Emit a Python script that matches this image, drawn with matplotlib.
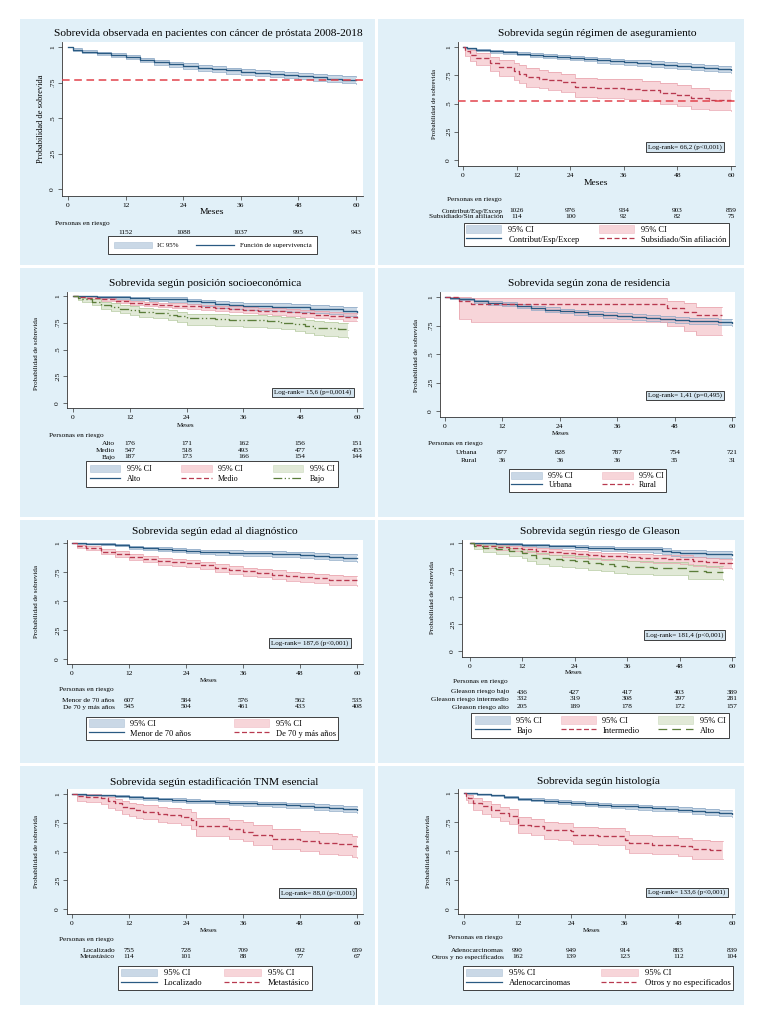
import matplotlib
matplotlib.use('Agg')
import matplotlib.pyplot as plt
from matplotlib.patches import Rectangle, Patch
from matplotlib.lines import Line2D
from matplotlib.transforms import blended_transform_factory

plt.rcParams['font.family'] = ['Liberation Serif', 'DejaVu Serif']

# ---------------- DATA ----------------
X_TICKS = [0, 12, 24, 36, 48, 60]
Y_TICKS = [0, 0.25, 0.5, 0.75, 1]
Y_TICK_LABELS = ['0', '.25', '.5', '.75', '1']
RISK_TIMES = [12, 24, 36, 48, 60]
T_GRID = [0, 1, 3, 6, 9, 12, 15, 18, 21, 24, 27, 30, 33, 36, 39, 42, 45, 48, 51, 54, 57, 60]

# Panel 1: overall
p1_s = [1.0, 0.982, 0.968, 0.955, 0.943, 0.928, 0.910, 0.893, 0.880, 0.866, 0.855, 0.845, 0.835, 0.825, 0.817, 0.810, 0.803, 0.796, 0.786, 0.777, 0.771, 0.766]
p1_lo = [1.0, 0.975, 0.957, 0.942, 0.928, 0.912, 0.893, 0.875, 0.861, 0.846, 0.834, 0.824, 0.813, 0.803, 0.794, 0.787, 0.779, 0.772, 0.761, 0.752, 0.746, 0.740]
p1_hi = [1.0, 0.990, 0.979, 0.966, 0.955, 0.942, 0.925, 0.909, 0.897, 0.884, 0.874, 0.864, 0.855, 0.846, 0.838, 0.832, 0.825, 0.819, 0.809, 0.801, 0.795, 0.790]
p1_ref = 0.765
p1_risk = [1152, 1088, 1037, 995, 943]

# Panel 2: insurance regime
p2_con_s = [1.0, 0.988, 0.975, 0.962, 0.952, 0.940, 0.928, 0.917, 0.910, 0.902, 0.893, 0.884, 0.875, 0.866, 0.858, 0.851, 0.843, 0.835, 0.826, 0.817, 0.808, 0.800]
p2_con_lo = [1.0, 0.981, 0.965, 0.950, 0.938, 0.925, 0.911, 0.899, 0.891, 0.882, 0.872, 0.862, 0.852, 0.843, 0.834, 0.826, 0.818, 0.809, 0.799, 0.790, 0.780, 0.772]
p2_con_hi = [1.0, 0.995, 0.985, 0.974, 0.965, 0.955, 0.944, 0.934, 0.928, 0.921, 0.913, 0.905, 0.897, 0.889, 0.882, 0.875, 0.868, 0.860, 0.852, 0.844, 0.835, 0.827]
p2_sub_t = [0, 0.5, 1.5, 3, 6, 8, 11.5, 12.5, 14, 17, 19, 22, 25, 30, 36, 40, 44, 48, 51, 55, 60]
p2_sub_s = [1.0, 0.965, 0.93, 0.90, 0.86, 0.82, 0.79, 0.765, 0.735, 0.72, 0.705, 0.69, 0.647, 0.64, 0.632, 0.618, 0.594, 0.574, 0.55, 0.535, 0.53]
p2_sub_hi = [1.0, 0.99, 0.97, 0.945, 0.915, 0.885, 0.86, 0.84, 0.81, 0.795, 0.78, 0.765, 0.73, 0.72, 0.715, 0.70, 0.68, 0.66, 0.635, 0.62, 0.615]
p2_sub_lo = [1.0, 0.92, 0.875, 0.84, 0.79, 0.745, 0.71, 0.68, 0.65, 0.635, 0.62, 0.60, 0.555, 0.55, 0.54, 0.525, 0.50, 0.48, 0.455, 0.44, 0.435]
p2_ref = 0.525
p2_risk_con = [1026, 976, 934, 903, 859]
p2_risk_sub = [114, 100, 92, 82, 75]

# Panel 3: socioeconomic position
p3_alto_t = [0, 5, 8, 12, 16, 20, 24, 27, 30, 33, 36, 42, 46, 50, 54, 57, 60]
p3_alto_s = [1.0, 0.994, 0.988, 0.982, 0.976, 0.97, 0.955, 0.94, 0.925, 0.913, 0.905, 0.90, 0.893, 0.882, 0.875, 0.862, 0.853]
p3_alto_lo = [1.0, 0.982, 0.972, 0.962, 0.953, 0.945, 0.926, 0.908, 0.889, 0.875, 0.865, 0.859, 0.851, 0.838, 0.829, 0.815, 0.804]
p3_alto_hi = [1.0, 1.0, 0.997, 0.993, 0.99, 0.986, 0.976, 0.964, 0.951, 0.942, 0.936, 0.932, 0.926, 0.917, 0.911, 0.90, 0.893]
p3_med_s = [1.0, 0.995, 0.985, 0.97, 0.952, 0.935, 0.927, 0.918, 0.91, 0.902, 0.894, 0.886, 0.879, 0.872, 0.864, 0.856, 0.847, 0.838, 0.826, 0.815, 0.806, 0.798]
p3_med_lo = [1.0, 0.989, 0.975, 0.956, 0.935, 0.916, 0.906, 0.896, 0.887, 0.877, 0.868, 0.859, 0.851, 0.843, 0.834, 0.825, 0.815, 0.805, 0.792, 0.781, 0.771, 0.762]
p3_med_hi = [1.0, 1.0, 0.994, 0.983, 0.967, 0.952, 0.945, 0.937, 0.930, 0.924, 0.917, 0.910, 0.904, 0.898, 0.891, 0.884, 0.876, 0.868, 0.857, 0.847, 0.839, 0.832]
p3_bajo_t = [0, 1, 2, 4, 6, 8, 10, 12, 14, 17, 20, 22, 24, 30, 33, 36, 41, 44, 47, 49, 51, 53, 56, 58]
p3_bajo_s = [1.0, 0.984, 0.968, 0.947, 0.915, 0.898, 0.882, 0.866, 0.852, 0.84, 0.825, 0.81, 0.79, 0.782, 0.778, 0.774, 0.765, 0.752, 0.735, 0.72, 0.705, 0.698, 0.69, 0.685]
p3_bajo_lo = [1.0, 0.966, 0.943, 0.915, 0.877, 0.857, 0.838, 0.82, 0.804, 0.79, 0.772, 0.756, 0.733, 0.724, 0.719, 0.714, 0.704, 0.689, 0.669, 0.653, 0.636, 0.628, 0.619, 0.612]
p3_bajo_hi = [1.0, 0.995, 0.985, 0.97, 0.945, 0.93, 0.916, 0.902, 0.89, 0.88, 0.866, 0.853, 0.836, 0.83, 0.826, 0.823, 0.815, 0.804, 0.79, 0.776, 0.763, 0.758, 0.751, 0.747]
p3_risk_alto = [176, 171, 162, 156, 151]
p3_risk_medio = [547, 518, 493, 477, 455]
p3_risk_bajo = [187, 173, 166, 154, 144]

# Panel 4: residence zone
p4_urb_s = [1.0, 0.992, 0.98, 0.962, 0.948, 0.935, 0.92, 0.905, 0.89, 0.878, 0.866, 0.855, 0.843, 0.832, 0.824, 0.816, 0.808, 0.80, 0.792, 0.786, 0.780, 0.775]
p4_urb_lo = [1.0, 0.986, 0.97, 0.949, 0.933, 0.918, 0.902, 0.886, 0.87, 0.857, 0.844, 0.832, 0.82, 0.808, 0.80, 0.791, 0.783, 0.774, 0.765, 0.759, 0.752, 0.747]
p4_urb_hi = [1.0, 0.998, 0.99, 0.975, 0.963, 0.952, 0.938, 0.924, 0.91, 0.899, 0.888, 0.878, 0.866, 0.856, 0.848, 0.841, 0.833, 0.826, 0.819, 0.813, 0.808, 0.803]
p4_rur_t = [0, 3, 5.5, 46.5, 50, 52.5, 58]
p4_rur_s = [1.0, 0.965, 0.935, 0.905, 0.872, 0.84, 0.84]
p4_rur_hi = [1.0, 0.998, 0.99, 0.965, 0.945, 0.915, 0.915]
p4_rur_lo = [1.0, 0.81, 0.78, 0.75, 0.70, 0.665, 0.665]
p4_risk_urb = [877, 828, 787, 754, 721]
p4_risk_rur = [36, 36, 36, 35, 31]

# Panel 5: age at diagnosis
p5_men_s = [1.0, 0.998, 0.995, 0.99, 0.982, 0.965, 0.955, 0.948, 0.94, 0.932, 0.925, 0.922, 0.918, 0.915, 0.912, 0.908, 0.904, 0.898, 0.89, 0.882, 0.875, 0.868]
p5_men_lo = [1.0, 0.994, 0.989, 0.982, 0.971, 0.95, 0.938, 0.93, 0.92, 0.911, 0.903, 0.90, 0.895, 0.892, 0.888, 0.883, 0.879, 0.872, 0.863, 0.854, 0.846, 0.838]
p5_men_hi = [1.0, 1.0, 0.999, 0.996, 0.991, 0.977, 0.969, 0.962, 0.956, 0.949, 0.943, 0.941, 0.938, 0.935, 0.933, 0.93, 0.926, 0.921, 0.914, 0.907, 0.901, 0.895]
p5_may_s = [1.0, 0.975, 0.955, 0.925, 0.905, 0.882, 0.862, 0.845, 0.835, 0.828, 0.808, 0.787, 0.77, 0.755, 0.742, 0.728, 0.716, 0.706, 0.695, 0.685, 0.678, 0.672]
p5_may_lo = [1.0, 0.96, 0.936, 0.902, 0.879, 0.854, 0.832, 0.814, 0.803, 0.795, 0.774, 0.752, 0.734, 0.718, 0.704, 0.689, 0.676, 0.665, 0.653, 0.642, 0.634, 0.627]
p5_may_hi = [1.0, 0.987, 0.971, 0.945, 0.927, 0.906, 0.888, 0.872, 0.863, 0.857, 0.838, 0.818, 0.802, 0.788, 0.776, 0.763, 0.752, 0.743, 0.733, 0.724, 0.717, 0.712]
p5_risk_men = [607, 584, 576, 562, 535]
p5_risk_may = [545, 504, 461, 433, 408]

# Panel 6: Gleason risk
p6_bajo_t = [0, 3, 6, 9, 12, 15, 18, 21, 24, 27, 30, 33, 36, 39, 42, 44, 46, 48, 51, 54, 57, 60]
p6_bajo_s = [1.0, 0.998, 0.995, 0.99, 0.984, 0.98, 0.975, 0.97, 0.963, 0.958, 0.953, 0.948, 0.944, 0.942, 0.94, 0.93, 0.915, 0.908, 0.905, 0.90, 0.895, 0.89]
p6_bajo_lo = [1.0, 0.993, 0.987, 0.98, 0.971, 0.965, 0.958, 0.951, 0.942, 0.936, 0.929, 0.923, 0.918, 0.915, 0.912, 0.90, 0.883, 0.875, 0.871, 0.865, 0.859, 0.853]
p6_bajo_hi = [1.0, 1.0, 0.999, 0.996, 0.992, 0.99, 0.986, 0.983, 0.978, 0.974, 0.97, 0.966, 0.963, 0.962, 0.96, 0.952, 0.939, 0.933, 0.931, 0.927, 0.923, 0.919]
p6_int_s = [1.0, 0.985, 0.97, 0.962, 0.953, 0.944, 0.93, 0.918, 0.905, 0.897, 0.89, 0.883, 0.876, 0.87, 0.865, 0.86, 0.855, 0.85, 0.835, 0.822, 0.812, 0.804]
p6_int_lo = [1.0, 0.97, 0.95, 0.938, 0.927, 0.916, 0.90, 0.886, 0.871, 0.862, 0.854, 0.846, 0.838, 0.831, 0.825, 0.819, 0.813, 0.807, 0.79, 0.776, 0.765, 0.756]
p6_int_hi = [1.0, 0.994, 0.984, 0.979, 0.972, 0.964, 0.952, 0.942, 0.931, 0.924, 0.918, 0.912, 0.906, 0.901, 0.897, 0.893, 0.889, 0.885, 0.871, 0.86, 0.851, 0.844]
p6_alto_t = [0, 1, 3, 6, 9, 12, 13, 15, 18, 21, 24, 27, 30, 33, 36, 42, 48, 50, 54, 58]
p6_alto_s = [1.0, 0.975, 0.955, 0.94, 0.925, 0.907, 0.885, 0.862, 0.848, 0.84, 0.83, 0.815, 0.805, 0.79, 0.775, 0.772, 0.77, 0.74, 0.733, 0.728]
p6_alto_lo = [1.0, 0.94, 0.915, 0.895, 0.878, 0.857, 0.832, 0.806, 0.79, 0.781, 0.77, 0.753, 0.742, 0.726, 0.71, 0.706, 0.703, 0.671, 0.663, 0.657]
p6_alto_hi = [1.0, 0.99, 0.979, 0.968, 0.957, 0.943, 0.925, 0.905, 0.893, 0.886, 0.877, 0.864, 0.856, 0.843, 0.829, 0.826, 0.825, 0.797, 0.791, 0.787]
p6_risk_bajo = [436, 427, 417, 403, 389]
p6_risk_int = [332, 319, 308, 297, 281]
p6_risk_alto = [205, 189, 178, 172, 157]

# Panel 7: TNM staging
p7_loc_s = [1.0, 0.998, 0.994, 0.988, 0.98, 0.972, 0.963, 0.955, 0.948, 0.942, 0.936, 0.93, 0.925, 0.919, 0.914, 0.91, 0.905, 0.899, 0.89, 0.88, 0.87, 0.862]
p7_loc_lo = [1.0, 0.995, 0.988, 0.98, 0.97, 0.96, 0.949, 0.94, 0.932, 0.925, 0.918, 0.911, 0.905, 0.898, 0.892, 0.887, 0.882, 0.875, 0.865, 0.854, 0.843, 0.834]
p7_loc_hi = [1.0, 1.0, 0.998, 0.994, 0.988, 0.981, 0.974, 0.967, 0.961, 0.956, 0.951, 0.946, 0.942, 0.937, 0.933, 0.93, 0.926, 0.921, 0.913, 0.904, 0.895, 0.888]
p7_met_t = [0, 1, 3, 6, 7.5, 9, 10.5, 12, 13.5, 15, 18, 20, 23, 25, 26, 30, 33, 36, 38, 42, 48, 52, 56, 59, 60]
p7_met_s = [1.0, 0.985, 0.977, 0.962, 0.935, 0.918, 0.89, 0.876, 0.86, 0.847, 0.824, 0.815, 0.803, 0.775, 0.72, 0.718, 0.695, 0.673, 0.645, 0.607, 0.592, 0.572, 0.562, 0.548, 0.535]
p7_met_hi = [1.0, 1.0, 0.996, 0.99, 0.97, 0.958, 0.937, 0.926, 0.913, 0.902, 0.884, 0.876, 0.866, 0.843, 0.795, 0.793, 0.773, 0.753, 0.727, 0.692, 0.678, 0.66, 0.651, 0.638, 0.627]
p7_met_lo = [1.0, 0.94, 0.93, 0.912, 0.88, 0.86, 0.83, 0.813, 0.795, 0.78, 0.755, 0.745, 0.731, 0.70, 0.638, 0.636, 0.612, 0.589, 0.558, 0.518, 0.503, 0.482, 0.471, 0.456, 0.44]
p7_risk_loc = [755, 728, 709, 692, 659]
p7_risk_met = [114, 101, 88, 77, 67]

# Panel 8: histology
p8_ade_s = [1.0, 0.996, 0.99, 0.98, 0.965, 0.95, 0.942, 0.933, 0.922, 0.914, 0.905, 0.898, 0.891, 0.885, 0.878, 0.871, 0.864, 0.856, 0.847, 0.838, 0.828, 0.82]
p8_ade_lo = [1.0, 0.992, 0.983, 0.971, 0.954, 0.937, 0.928, 0.918, 0.906, 0.897, 0.887, 0.879, 0.871, 0.864, 0.856, 0.849, 0.841, 0.832, 0.822, 0.813, 0.802, 0.793]
p8_ade_hi = [1.0, 0.999, 0.995, 0.987, 0.974, 0.961, 0.954, 0.946, 0.936, 0.929, 0.921, 0.915, 0.909, 0.904, 0.898, 0.892, 0.886, 0.878, 0.87, 0.862, 0.853, 0.845]
p8_otr_t = [0, 0.5, 1, 2, 4, 6, 8, 10, 12, 15, 18, 21, 24, 24.5, 30, 36, 37, 42, 48, 51, 55, 58]
p8_otr_s = [1.0, 0.975, 0.957, 0.914, 0.885, 0.856, 0.828, 0.805, 0.727, 0.713, 0.684, 0.677, 0.67, 0.641, 0.632, 0.598, 0.569, 0.555, 0.54, 0.517, 0.511, 0.511]
p8_otr_hi = [1.0, 0.995, 0.985, 0.953, 0.93, 0.905, 0.88, 0.86, 0.79, 0.777, 0.75, 0.745, 0.739, 0.71, 0.702, 0.67, 0.642, 0.628, 0.613, 0.591, 0.585, 0.585]
p8_otr_lo = [1.0, 0.94, 0.91, 0.855, 0.82, 0.79, 0.757, 0.732, 0.652, 0.637, 0.605, 0.598, 0.59, 0.56, 0.551, 0.516, 0.487, 0.472, 0.457, 0.433, 0.427, 0.427]
p8_risk_ade = [990, 949, 914, 883, 839]
p8_risk_otr = [162, 139, 123, 112, 104]

# ---------------- STYLE ----------------
W, H = 765, 1023
BG = '#e1f0f8'
BLUE, BLUE_CI, BLUE_E = '#2a5a82', '#a8bed6', '#8aa6c4'
RED, RED_CI, RED_E = '#b8394f', '#f3b9c1', '#e8a0ab'
GREEN, GREEN_CI, GREEN_E = '#5b7d3a', '#cddbbd', '#b2c89c'
REF = '#e2424c'
LOGRANK_FC = '#d4e5f0'
STYLES = {
    'blue': (BLUE, BLUE_CI, BLUE_E, '-'),
    'red': (RED, RED_CI, RED_E, (0, (4, 2))),
    'green_dd': (GREEN, GREEN_CI, GREEN_E, (0, (7, 2, 1, 2, 1, 2))),
    'green_ld': (GREEN, GREEN_CI, GREEN_E, (0, (7, 4))),
}

fig = plt.figure(figsize=(W / 100, H / 100), dpi=100)
fig.patch.set_facecolor('white')


def fx(px):
    return px / W


def fy(py):
    return 1 - py / H


def panel(bg, box, x0, x60, y1, y0, title, title_xy, ylab_xy, ylab_fs, meses_xy, meses_fs,
          curves, ref, risk_head_xy, risk_label_x, risk_rows, risk_ys, legend_box, legend_fs,
          legend_ncol, ci_label='95% CI', logrank=None, logrank_xy=None, title_fs=8.2,
          handlelength=4.2, borderpad=0.3):
    bx0, by0, bx1, by1 = bg
    fig.patches.append(Rectangle((fx(bx0), fy(by1)), (bx1 - bx0) / W, (by1 - by0) / H,
                                 transform=fig.transFigure, facecolor=BG, edgecolor='none',
                                 zorder=-10))
    left, top, right, bottom = box
    ax = fig.add_axes([fx(left), fy(bottom), (right - left) / W, (bottom - top) / H])
    ax.set_zorder(1)
    ax.set_facecolor('white')
    xs = (x60 - x0) / 60.0
    ys = (y0 - y1)
    ax.set_xlim((left - x0) / xs, (right - x0) / xs)
    ax.set_ylim((y0 - bottom) / ys, (y0 - top) / ys)
    for sp in ['top', 'right']:
        ax.spines[sp].set_visible(False)
    for sp in ['left', 'bottom']:
        ax.spines[sp].set_color('#333333')
        ax.spines[sp].set_linewidth(0.6)
    ax.set_xticks(X_TICKS)
    ax.set_xticklabels([str(v) for v in X_TICKS])
    ax.set_yticks(Y_TICKS)
    ax.set_yticklabels(Y_TICK_LABELS)
    ax.tick_params(axis='both', direction='out', length=3, width=0.5, color='#333333',
                   labelsize=5.4, pad=2)
    ax.tick_params(axis='y', labelrotation=90)
    for lb in ax.get_yticklabels():
        lb.set_va('center')

    handles_ci, handles_ln, labels_ln = [], [], []
    for (t, s, lo, hi, key, lab) in curves:
        lc, fc, ec, ls = STYLES[key]
        ax.fill_between(t, lo, hi, step='post', facecolor=fc, edgecolor='none', alpha=0.6, zorder=2)
        ax.step(t, lo, where='post', color=ec, lw=0.5, zorder=3)
        ax.step(t, hi, where='post', color=ec, lw=0.5, zorder=3)
        handles_ci.append(Patch(facecolor=fc, edgecolor=ec, alpha=0.6, lw=0.4))
        handles_ln.append(Line2D([], [], color=lc, ls=ls, lw=0.9))
        labels_ln.append(lab)
    for (t, s, lo, hi, key, lab) in curves:
        lc, fc, ec, ls = STYLES[key]
        ax.step(t, s, where='post', color=lc, ls=ls, lw=0.95, zorder=4)
    if ref is not None:
        ax.axhline(ref, color=REF, ls=(0, (5, 3)), lw=1.1, zorder=5)

    fig.text(fx(title_xy[0]), fy(title_xy[1]), title, ha='center', va='center', fontsize=title_fs)
    fig.text(fx(ylab_xy[0]), fy(ylab_xy[1]), 'Probabilidad de sobrevida', rotation=90,
             ha='center', va='center', fontsize=ylab_fs)
    fig.text(fx(meses_xy[0]), fy(meses_xy[1]), 'Meses', ha='center', va='center', fontsize=meses_fs)

    fig.text(fx(risk_head_xy[0]), fy(risk_head_xy[1]), 'Personas en riesgo', ha='left', va='center',
             fontsize=5.2)
    tr = blended_transform_factory(ax.transData, fig.transFigure)
    for (lab, nums), ry in zip(risk_rows, risk_ys):
        if lab:
            fig.text(fx(risk_label_x), fy(ry), lab, ha='right', va='center', fontsize=5.2)
        for tm, n in zip(RISK_TIMES, nums):
            ax.text(tm, fy(ry), str(n), transform=tr, ha='center', va='center', fontsize=5.2,
                    clip_on=False)

    if logrank is not None:
        ax.text(fx(logrank_xy[0]), fy(logrank_xy[1]), logrank, transform=fig.transFigure,
                ha='center', va='center', fontsize=5.0, zorder=10,
                bbox=dict(boxstyle='square,pad=0.3', fc=LOGRANK_FC, ec='#222222', lw=0.6))

    handles, labels = [], []
    for hc, hl, ll in zip(handles_ci, handles_ln, labels_ln):
        handles += [hc, hl]
        labels += [ci_label, ll]
    lx0, ly0, lx1, ly1 = legend_box
    leg = fig.legend(handles, labels, ncol=legend_ncol, mode='expand', loc='center',
                     bbox_to_anchor=(fx(lx0), fy(ly1), (lx1 - lx0) / W, (ly1 - ly0) / H),
                     bbox_transform=fig.transFigure, fontsize=legend_fs, frameon=True,
                     fancybox=False, edgecolor='#222222', framealpha=1, borderpad=borderpad,
                     labelspacing=0.15, handlelength=handlelength, handleheight=1.0,
                     handletextpad=0.8, columnspacing=1.0, borderaxespad=0)
    leg.get_frame().set_linewidth(0.6)
    leg.set_zorder(5)
    return ax


# Panel 1
panel(bg=(20, 19, 375, 265), box=(62, 42, 363, 196), x0=68, x60=356, y1=47, y0=189,
      title='Sobrevida observada en pacientes con cáncer de próstata 2008-2018', title_xy=(208, 34),
      ylab_xy=(41, 119), ylab_fs=6.0, meses_xy=(212, 212), meses_fs=6.8,
      curves=[(T_GRID, p1_s, p1_lo, p1_hi, 'blue', 'Función de supervivencia')], ref=p1_ref,
      risk_head_xy=(55, 223), risk_label_x=100, risk_rows=[('', p1_risk)], risk_ys=[232],
      legend_box=(108, 237, 317, 253), legend_fs=5.0, legend_ncol=2, ci_label='IC 95%',
      handlelength=5.5, borderpad=0.8)

# Panel 2
panel(bg=(378, 19, 744, 265), box=(458, 42, 735, 166), x0=463, x60=731, y1=47, y0=160,
      title='Sobrevida según régimen de aseguramiento', title_xy=(597, 34),
      ylab_xy=(435, 104), ylab_fs=4.8, meses_xy=(596, 183), meses_fs=6.8,
      curves=[(T_GRID, p2_con_s, p2_con_lo, p2_con_hi, 'blue', 'Contribut/Esp/Excep'),
              (p2_sub_t, p2_sub_s, p2_sub_lo, p2_sub_hi, 'red', 'Subsidiado/Sin afiliación')],
      ref=p2_ref, risk_head_xy=(447, 200), risk_label_x=503,
      risk_rows=[('Contribut/Esp/Excep', p2_risk_con), ('Subsidiado/Sin afiliación', p2_risk_sub)],
      risk_ys=[211, 217], legend_box=(464, 222, 729, 247), legend_fs=6.0, legend_ncol=2,
      logrank='Log-rank= 66,2 (p<0,001)', logrank_xy=(685, 147))

# Panel 3
panel(bg=(20, 268, 375, 517), box=(67, 292, 363, 408), x0=73, x60=357, y1=296, y0=403,
      title='Sobrevida según posición socioeconómica', title_xy=(205, 284),
      ylab_xy=(37, 353), ylab_fs=5.0, meses_xy=(186, 425), meses_fs=5.0,
      curves=[(p3_alto_t, p3_alto_s, p3_alto_lo, p3_alto_hi, 'blue', 'Alto'),
              (T_GRID, p3_med_s, p3_med_lo, p3_med_hi, 'red', 'Medio'),
              (p3_bajo_t, p3_bajo_s, p3_bajo_lo, p3_bajo_hi, 'green_dd', 'Bajo')],
      ref=None, risk_head_xy=(49, 435), risk_label_x=115,
      risk_rows=[('Alto', p3_risk_alto), ('Medio', p3_risk_medio), ('Bajo', p3_risk_bajo)],
      risk_ys=[443, 450, 457], legend_box=(86, 460, 338, 488), legend_fs=5.8, legend_ncol=3,
      logrank='Log-rank= 15,6 (p=0,0014)', logrank_xy=(313, 392.5), handlelength=3.8,
      borderpad=0.45)

# Panel 4
panel(bg=(378, 268, 744, 517), box=(440, 292, 735, 417), x0=445, x60=732, y1=297, y0=411,
      title='Sobrevida según zona de residencia', title_xy=(589, 284),
      ylab_xy=(417, 355), ylab_fs=5.0, meses_xy=(561, 433), meses_fs=5.0,
      curves=[(T_GRID, p4_urb_s, p4_urb_lo, p4_urb_hi, 'blue', 'Urbana'),
              (p4_rur_t, p4_rur_s, p4_rur_lo, p4_rur_hi, 'red', 'Rural')],
      ref=None, risk_head_xy=(428, 443), risk_label_x=477,
      risk_rows=[('Urbana', p4_risk_urb), ('Rural', p4_risk_rur)],
      risk_ys=[453, 461], legend_box=(509, 469, 666, 492), legend_fs=5.8, legend_ncol=2,
      logrank='Log-rank= 1,41 (p=0,495)', logrank_xy=(685, 395.5), handlelength=3.8)

# Panel 5
panel(bg=(20, 520, 375, 763), box=(67, 540, 363, 664), x0=72, x60=357, y1=543, y0=659,
      title='Sobrevida según edad al diagnóstico', title_xy=(215, 532),
      ylab_xy=(37, 602), ylab_fs=5.0, meses_xy=(209, 681), meses_fs=5.0,
      curves=[(T_GRID, p5_men_s, p5_men_lo, p5_men_hi, 'blue', 'Menor de 70 años'),
              (T_GRID, p5_may_s, p5_may_lo, p5_may_hi, 'red', 'De 70 y más años')],
      ref=None, risk_head_xy=(59, 690), risk_label_x=115,
      risk_rows=[('Menor de 70 años', p5_risk_men), ('De 70 y más años', p5_risk_may)],
      risk_ys=[700, 707], legend_box=(86, 715, 338, 742), legend_fs=6.0, legend_ncol=2,
      logrank='Log-rank= 187,6 (p<0,001)', logrank_xy=(310, 643))

# Panel 6
panel(bg=(378, 520, 744, 763), box=(462, 540, 735, 657), x0=470, x60=732, y1=543, y0=651,
      title='Sobrevida según riesgo de Gleason', title_xy=(600, 532),
      ylab_xy=(433, 598), ylab_fs=5.0, meses_xy=(574, 673), meses_fs=5.0,
      curves=[(p6_bajo_t, p6_bajo_s, p6_bajo_lo, p6_bajo_hi, 'blue', 'Bajo'),
              (T_GRID, p6_int_s, p6_int_lo, p6_int_hi, 'red', 'Intermedio'),
              (p6_alto_t, p6_alto_s, p6_alto_lo, p6_alto_hi, 'green_ld', 'Alto')],
      ref=None, risk_head_xy=(453, 682), risk_label_x=509,
      risk_rows=[('Gleason riesgo bajo', p6_risk_bajo), ('Gleason riesgo intermedio', p6_risk_int),
                 ('Gleason riesgo alto', p6_risk_alto)],
      risk_ys=[692, 699, 707], legend_box=(471, 710, 729, 741), legend_fs=6.0, legend_ncol=3,
      logrank='Log-rank= 181,4 (p<0,001)', logrank_xy=(684.5, 635), borderpad=0.45)

# Panel 7
panel(bg=(20, 766, 375, 1005), box=(67, 789, 363, 914), x0=72, x60=357, y1=794, y0=909,
      title='Sobrevida según estadificación TNM esencial', title_xy=(214, 782),
      ylab_xy=(37, 852), ylab_fs=5.0, meses_xy=(209, 931), meses_fs=5.0,
      curves=[(T_GRID, p7_loc_s, p7_loc_lo, p7_loc_hi, 'blue', 'Localizado'),
              (p7_met_t, p7_met_s, p7_met_lo, p7_met_hi, 'red', 'Metastásico')],
      ref=None, risk_head_xy=(59, 940), risk_label_x=115,
      risk_rows=[('Localizado', p7_risk_loc), ('Metastásico', p7_risk_met)],
      risk_ys=[950, 957], legend_box=(118, 964, 312, 992), legend_fs=6.2, legend_ncol=2,
      logrank='Log-rank= 88,0 (p<0,001)', logrank_xy=(317.5, 893))

# Panel 8
panel(bg=(378, 766, 744, 1005), box=(458, 789, 735, 914), x0=464, x60=732, y1=793, y0=909,
      title='Sobrevida según histología', title_xy=(598, 782),
      ylab_xy=(428, 852), ylab_fs=5.0, meses_xy=(592, 931), meses_fs=5.0,
      curves=[(T_GRID, p8_ade_s, p8_ade_lo, p8_ade_hi, 'blue', 'Adenocarcinomas'),
              (p8_otr_t, p8_otr_s, p8_otr_lo, p8_otr_hi, 'red', 'Otros y no especificados')],
      ref=None, risk_head_xy=(448, 938), risk_label_x=504,
      risk_rows=[('Adenocarcinomas', p8_risk_ade), ('Otros y no especificados', p8_risk_otr)],
      risk_ys=[950, 957], legend_box=(463, 964, 733, 992), legend_fs=6.2, legend_ncol=2,
      logrank='Log-rank= 133,6 (p<0,001)', logrank_xy=(687, 892.5))

fig.savefig('out.png', dpi=100, facecolor='white')
